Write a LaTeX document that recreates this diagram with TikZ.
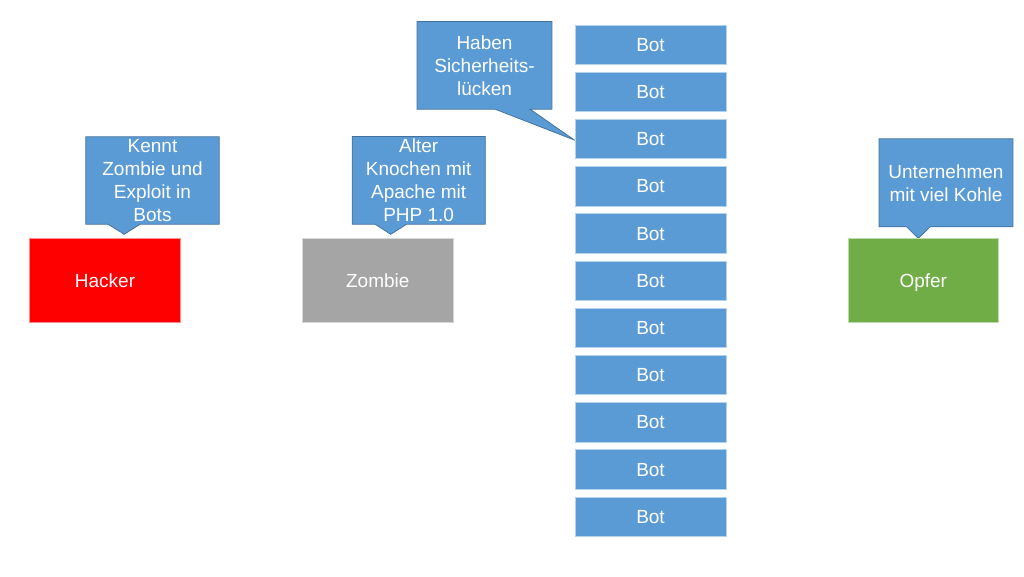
\documentclass[tikz,border=0pt]{standalone}
\usepackage{fontspec}
\setmainfont{Liberation Sans}
\usetikzlibrary{backgrounds}
\definecolor{cblue}{HTML}{5B9BD5}
\definecolor{cblueline}{HTML}{41719C}
\definecolor{cred}{HTML}{FF0000}
\definecolor{cgray}{HTML}{A5A5A5}
\definecolor{cgreen}{HTML}{70AD47}
\tikzset{
  txt/.style={text=white, font=\fontsize{19}{23}\selectfont, align=center, inner sep=0pt},
  mainbox/.style={txt, text height=17.2pt, text depth=4pt, draw=#1!45!white, fill=#1, line width=0.75pt, minimum width=151pt, minimum height=84.4pt},
  botbox/.style={txt, text height=17.2pt, text depth=4pt, draw=cblue!45!white, fill=cblue, line width=0.75pt, minimum width=151pt, minimum height=39.5pt},
  calltext/.style={txt},
  callshape/.style={fill=cblue, draw=cblueline, line width=0.75pt, line join=miter},
}
\newcommand{\mycallout}[8]{%
  % #1 name, #2 center, #3 width, #4 height, #5 text, #6 tip, #7 base left x, #8 base right x
  \node[calltext, minimum width=#3, minimum height=#4] (#1) at #2 {#5};
  \coordinate (#1-tip) at #6;
  \coordinate (#1-bl) at (#7,0);
  \coordinate (#1-br) at (#8,0);
  \begin{scope}[on background layer]
    \path[callshape] (#1.north west) -- (#1.north east) -- (#1.south east)
      -- (#1-br |- #1.south) -- (#1-tip) -- (#1-bl |- #1.south) -- (#1.south west) -- cycle;
  \end{scope}
}
\begin{document}
\begin{tikzpicture}[x=1pt, y=-1pt]
\useasboundingbox (0,0) rectangle (1024,576);

\node[mainbox=cred] (hacker) at (105,280.5) {Hacker};
\node[mainbox=cgray] (zombie) at (377.8,280.5) {Zombie};
\node[mainbox=cgreen, minimum width=150pt] (opfer) at (923.3,280.5) {Opfer};

\foreach \i in {0,...,10} {
  \node[botbox] (bot\i) at (650.5, 44.7+47.2*\i) {Bot};
}

\mycallout{kennt}{(152.5,180.5)}{133pt}{87pt}{Kennt\\Zombie und\\Exploit in\\Bots}{(124.3,234.3)}{108}{140}
\mycallout{alter}{(418.7,180.3)}{132.7pt}{87.3pt}{Alter\\Knochen mit\\Apache mit\\PHP 1.0}{(390.7,234.3)}{375}{406.7}
\mycallout{haben}{(484.5,65.3)}{134.4pt}{87.3pt}{Haben\\Sicherheits-\\lücken}{(574.3,140)}{495}{530}
\mycallout{unter}{(946,182.8)}{133.4pt}{87.7pt}{Unternehmen\\mit viel Kohle}{(918.3,238.3)}{906.7}{930}
\end{tikzpicture}
\end{document}
